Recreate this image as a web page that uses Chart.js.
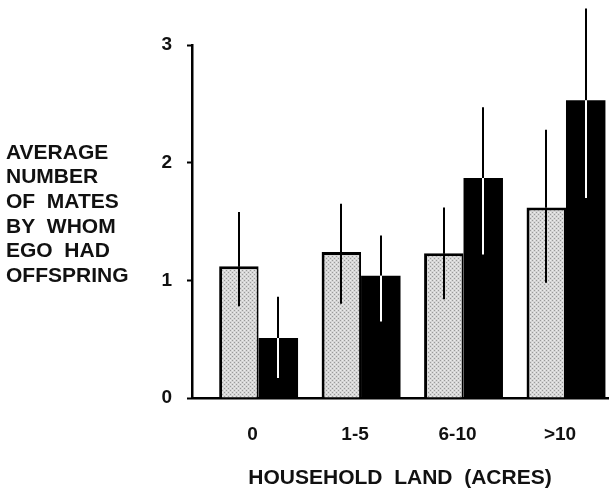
<!DOCTYPE html>
<html>
<head>
<meta charset="utf-8">
<script src="https://cdn.jsdelivr.net/npm/chart.js@4/dist/chart.umd.min.js"></script>
<style>
  html, body { margin: 0; padding: 0; background: #fff; overflow: hidden; }
  canvas { display: block; }
</style>
</head>
<body>
<canvas id="c" width="609" height="496"></canvas>
<script>
// ---- data ----
const categories = ['0', '1-5', '6-10', '>10'];
const grayMeans  = [1.12, 1.24, 1.23, 1.62];
const grayHi     = [1.58, 1.65, 1.62, 2.28];
const grayLo     = [0.78, 0.80, 0.84, 0.98];
const blackMeans = [0.51, 1.04, 1.87, 2.53];
const blackHi    = [0.86, 1.38, 2.47, 3.31];
const blackLo    = [0.17, 0.65, 1.22, 1.70];
const yTicks     = [0, 1, 2, 3];
const yTitleLines = ['AVERAGE', 'NUMBER', 'OF  MATES', 'BY  WHOM', 'EGO  HAD', 'OFFSPRING'];
const xTitle = 'HOUSEHOLD  LAND  (ACRES)';

const FONT = "'Liberation Sans', Arial, Helvetica, sans-serif";

// stippled gray fill
function makePattern() {
  const p = document.createElement('canvas');
  p.width = 4; p.height = 4;
  const g = p.getContext('2d');
  g.fillStyle = '#d6d6d6';
  g.fillRect(0, 0, 4, 4);
  g.fillStyle = '#9a9a9a';
  g.fillRect(0, 0, 1, 1);
  g.fillRect(2, 2, 1, 1);
  g.fillStyle = '#ececec';
  g.fillRect(2, 0, 1, 1);
  g.fillRect(0, 2, 1, 1);
  return g.createPattern(p, 'repeat');
}
const grayFill = makePattern();

const toPoints = arr => arr.map((v, i) => ({ x: i, y: v }));

const errorBars = {
  id: 'errorBars',
  afterDatasetsDraw(chart) {
    const ctx = chart.ctx;
    const ys = chart.scales.y;
    const sets = [
      { hi: grayHi, lo: grayLo, inner: '#000' },
      { hi: blackHi, lo: blackLo, inner: '#fff' }
    ];
    ctx.save();
    ctx.lineWidth = 2;
    ctx.lineCap = 'butt';
    sets.forEach((s, di) => {
      const meta = chart.getDatasetMeta(di);
      meta.data.forEach((el, j) => {
        const x = Math.round(el.x);
        const top = el.y;
        const yh = ys.getPixelForValue(s.hi[j]);
        const yl = ys.getPixelForValue(s.lo[j]);
        ctx.strokeStyle = '#000';
        ctx.beginPath(); ctx.moveTo(x, yh); ctx.lineTo(x, top); ctx.stroke();
        ctx.strokeStyle = s.inner;
        ctx.beginPath(); ctx.moveTo(x, top); ctx.lineTo(x, yl); ctx.stroke();
      });
    });
    ctx.restore();
  }
};

const yTitlePlugin = {
  id: 'yTitle',
  afterDraw(chart) {
    const ctx = chart.ctx;
    ctx.save();
    ctx.fillStyle = '#111';
    ctx.font = 'bold 21px ' + FONT;
    ctx.textAlign = 'left';
    ctx.textBaseline = 'middle';
    yTitleLines.forEach((t, i) => ctx.fillText(t, 6, 153 + i * 24.6));
    ctx.restore();
  }
};

const bgPlugin = {
  id: 'bg',
  beforeDraw(chart) {
    const ctx = chart.ctx;
    ctx.save();
    ctx.fillStyle = '#fff';
    ctx.fillRect(0, 0, chart.width, chart.height);
    ctx.restore();
  }
};

new Chart(document.getElementById('c'), {
  type: 'bar',
  data: {
    datasets: [
      {
        data: toPoints(grayMeans),
        backgroundColor: grayFill,
        borderColor: '#000',
        borderWidth: { left: 3, top: 3, right: 2, bottom: 0 },
        borderSkipped: 'bottom'
      },
      {
        data: toPoints(blackMeans),
        backgroundColor: '#000',
        borderColor: '#000',
        borderWidth: 0
      }
    ]
  },
  options: {
    responsive: false,
    animation: false,
    events: [],
    layout: { padding: { top: 45, right: 1, left: 0, bottom: 0 } },
    categoryPercentage: 0.77,
    barPercentage: 1.0,
    plugins: {
      legend: { display: false },
      tooltip: { enabled: false },
      title: { display: false }
    },
    scales: {
      x: {
        type: 'linear',
        offset: false,
        min: -0.65,
        max: 3.41,
        afterBuildTicks: s => { s.ticks = categories.map((c, i) => ({ value: i })); },
        afterFit: s => { s.height = 98; },
        grid: { display: false, drawTicks: false },
        border: { display: true, color: '#000', width: 2.5 },
        ticks: {
          padding: 25,
          labelOffset: -6,
          color: '#111',
          font: { family: FONT, size: 19, weight: 'bold' },
          callback: v => categories[v]
        },
        title: {
          display: true,
          text: xTitle,
          color: '#111',
          font: { family: FONT, size: 21, weight: 'bold' },
          padding: { top: 20, bottom: 5 }
        }
      },
      y: {
        min: 0,
        max: 3,
        afterBuildTicks: s => { s.ticks = yTicks.map(v => ({ value: v })); },
        afterFit: s => { s.width = 192; },
        grid: { display: true, drawOnChartArea: false, drawTicks: true, tickLength: 5, color: '#000', tickWidth: 2 },
        border: { display: true, color: '#000', width: 2.5 },
        ticks: {
          padding: 15,
          color: '#111',
          font: { family: FONT, size: 19, weight: 'bold' },
          callback: v => String(v)
        }
      }
    }
  },
  plugins: [bgPlugin, errorBars, yTitlePlugin]
});
</script>
</body>
</html>
